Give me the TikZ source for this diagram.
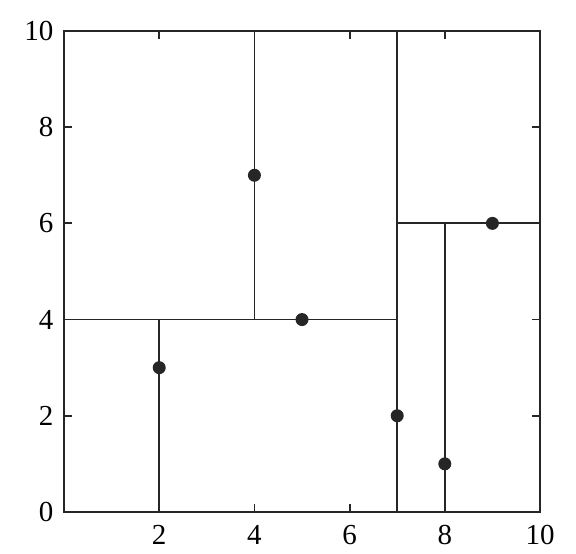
\documentclass[tikz,border=0pt]{standalone}
\usepackage{fontspec}
\setmainfont{Liberation Serif}
\usetikzlibrary{positioning}
\tikzset{
  kdline/.style={line width=1.8pt, draw=black!85},
  kdpt/.style={circle, fill=black!85, inner sep=0pt, minimum size=13pt},
  ticklab/.style={font=\fontsize{29}{31}\selectfont, inner sep=0pt}
}
\begin{document}
\begin{tikzpicture}[x=47.6pt, y=48.1pt]
  \useasboundingbox (-1.345,-0.873) rectangle (10.756,10.644);

  %% --- FRAME AND TICKS ---
  \draw[kdline] (0,0) rectangle (10,10);
  \foreach \t in {2,4,6,8} {
    \draw[kdline] (\t,0) -- (\t,0.17);
    \draw[kdline] (\t,10) -- (\t,9.83);
    \draw[kdline] (0,\t) -- (0.17,\t);
    \draw[kdline] (10,\t) -- (9.83,\t);
  }
  \foreach \t in {0,2,4,6,8,10}
    \node[ticklab, anchor=east] (ylab\t) at (-0.22,\t) {\t};
  \foreach \t in {2,4,6,8,10}
    \node[ticklab, anchor=north] (xlab\t) at (\t,-0.28) {\t};

  %% --- SPLIT POINTS ---
  \node[kdpt] (p72) at (7,2) {};
  \node[kdpt] (p54) at (5,4) {};
  \node[kdpt] (p23) at (2,3) {};
  \node[kdpt] (p47) at (4,7) {};
  \node[kdpt] (p96) at (9,6) {};
  \node[kdpt] (p81) at (8,1) {};

  %% --- SPLIT LINES ---
  \coordinate (x7b) at (7,0);  \coordinate (x7t) at (7,10);
  \coordinate (y4l) at (0,4);  \coordinate (y4r) at (7,4);
  \coordinate (x2b) at (2,0);  \coordinate (x2t) at (2,4);
  \coordinate (x4b) at (4,4);  \coordinate (x4t) at (4,10);
  \coordinate (y6l) at (7,6);  \coordinate (y6r) at (10,6);
  \coordinate (x8b) at (8,0);  \coordinate (x8t) at (8,6);

  \draw[kdline] (x7b) -- (x7t);
  \draw[kdline] (y4l) -- (y4r);
  \draw[kdline] (x2b) -- (x2t);
  \draw[kdline] (x4b) -- (x4t);
  \draw[kdline] (y6l) -- (y6r);
  \draw[kdline] (x8b) -- (x8t);
\end{tikzpicture}
\end{document}
